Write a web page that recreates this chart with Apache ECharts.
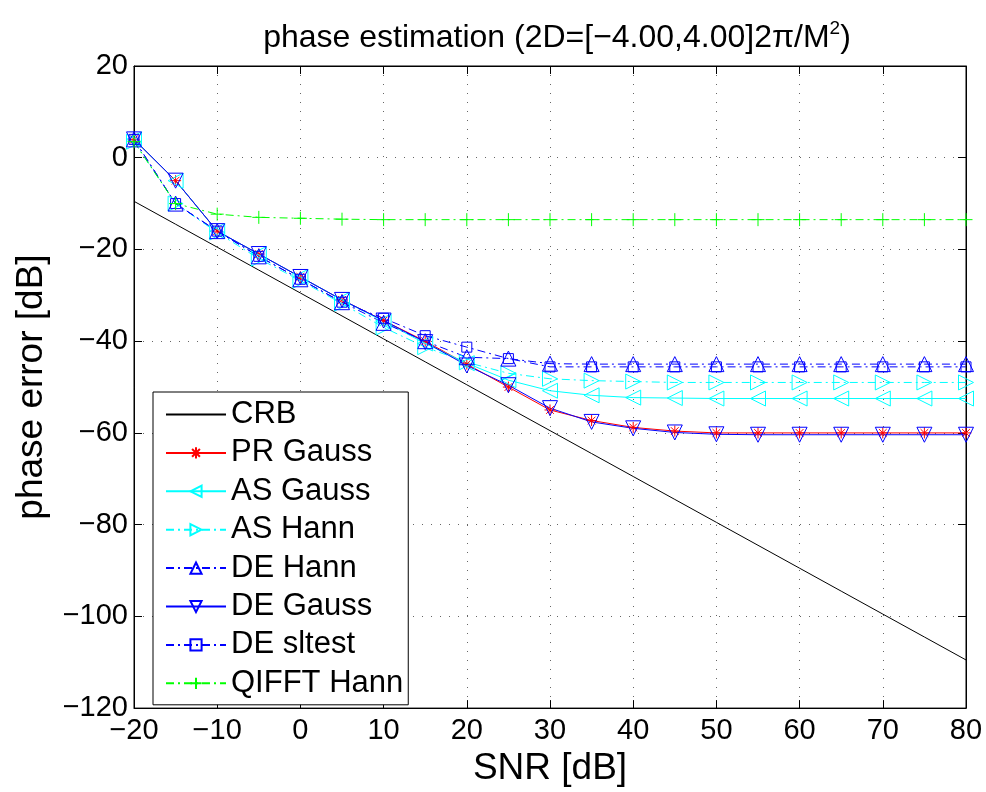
<!DOCTYPE html>
<html lang="en">
<head>
    <meta charset="UTF-8">
    <title>phase estimation</title>
    <script src="https://cdn.jsdelivr.net/npm/echarts@6/dist/echarts.min.js"></script>
    <style>
        body { margin: 0; background: #fff; }
        #chart { width: 986px; height: 792px; }
    </style>
</head>
<body>
    <div id="chart"></div>

    <script type="text/javascript">
        // SNR points [dB]
        var snr = [-20, -15, -10, -5, 0, 5, 10, 15, 20, 25, 30, 35, 40, 45, 50, 55, 60, 65, 70, 75, 80];

        // phase error [dB]
        var crb = [-9.5, -14.5, -19.5, -24.5, -29.5, -34.5, -39.5, -44.5, -49.5, -54.5, -59.5, -64.5, -69.5, -74.5, -79.5, -84.5, -89.5, -94.5, -99.5, -104.5, -109.5];
        var prGauss = [4, -5, -16, -21, -26, -31, -35.5, -40, -45, -50, -55, -57.3, -58.8, -59.6, -60, -60, -60, -60, -60, -60, -60];
        var asGauss = [4, -5, -16, -21, -26, -31, -35.7, -40.5, -44.8, -48.5, -50.8, -51.8, -52.3, -52.4, -52.5, -52.5, -52.5, -52.5, -52.5, -52.5, -52.5];
        var asHann = [3.5, -10, -16.3, -22, -26.8, -31.8, -37, -41.3, -44.6, -47, -48.2, -48.6, -48.8, -49, -49, -49, -49, -49, -49, -49, -49];
        var deHann = [4, -10, -16, -21.5, -26.5, -31.5, -36, -40, -43.5, -43.8, -44.9, -45, -45, -45, -45, -45, -45, -45, -45, -45, -45];
        var deGauss = [4, -5, -16, -21, -26, -31, -35.5, -40.2, -45.3, -49.6, -54.6, -57.6, -59, -59.9, -60.3, -60.4, -60.4, -60.4, -60.4, -60.4, -60.4];
        var deSltest = [4, -10, -16, -21.5, -26.5, -31.5, -35, -38.8, -41.3, -43.8, -45.6, -45.6, -45.6, -45.6, -45.6, -45.6, -45.6, -45.6, -45.6, -45.6, -45.6];
        var qifftHann = [3.5, -10, -12.3, -13, -13.2, -13.4, -13.5, -13.5, -13.5, -13.5, -13.5, -13.5, -13.5, -13.5, -13.5, -13.5, -13.5, -13.5, -13.5, -13.5, -13.5];

        var FONT = '"Liberation Sans", Arial, sans-serif';
        var dashDot = [8, 4, 2, 4];
        var plusPath = 'path://M5,0L5,10M0,5L10,5';
        var starPath = 'path://M5,0L5,10M0,5L10,5M1.5,1.5L8.5,8.5M1.5,8.5L8.5,1.5';

        function pairs(ys) {
            var out = [];
            for (var i = 0; i < snr.length; i++) out.push([snr[i], ys[i]]);
            return out;
        }

        function mk(name, ys, color, dash, symbol, size, rotate) {
            return {
                name: name,
                type: 'line',
                data: pairs(ys),
                symbol: symbol,
                symbolSize: size,
                symbolRotate: rotate || 0,
                showSymbol: symbol !== 'none',
                animation: false,
                lineStyle: { color: color, width: 1, type: dash },
                itemStyle: { color: 'none', borderColor: color, borderWidth: 1 }
            };
        }

        var series = [
            mk('CRB', crb, '#000000', 'solid', 'none', 0),
            mk('PR Gauss', prGauss, '#ff0000', 'solid', starPath, 11),
            mk('AS Gauss', asGauss, '#00ffff', 'solid', 'triangle', 15, 90),
            mk('AS Hann', asHann, '#00ffff', dashDot, 'triangle', 15, -90),
            mk('DE Hann', deHann, '#0000ff', dashDot, 'triangle', 15),
            mk('DE Gauss', deGauss, '#0000ff', 'solid', 'triangle', 15, 180),
            mk('DE sltest', deSltest, '#0000ff', dashDot, 'rect', 10),
            mk('QIFFT Hann', qifftHann, '#00ff00', dashDot, plusPath, 13)
        ];

        var legendData = series.map(function (s) {
            if (s.name === 'CRB') return { name: s.name, itemStyle: { opacity: 0 } };
            return { name: s.name };
        });

        var tickLabel = { fontFamily: FONT, fontSize: 29, color: '#000' };
        var minus = function (v) { return String(v).replace('-', '\u2212'); };

        var option = {
            backgroundColor: '#fff',
            animation: false,
            title: {
                text: '{a|phase estimation (2D=[\u22124.00,4.00]2\u03c0/M}{s|2}{a|)}',
                left: 552,
                top: 14,
                textAlign: 'center',
                textStyle: {
                    rich: {
                        a: { fontFamily: FONT, fontSize: 32, fontWeight: 'normal', color: '#000', lineHeight: 38 },
                        s: { fontFamily: FONT, fontSize: 19, fontWeight: 'normal', color: '#000', lineHeight: 38, verticalAlign: 'top' }
                    }
                }
            },
            grid: {
                left: 134, right: 20, top: 66, bottom: 77,
                show: true, borderColor: '#000', borderWidth: 1, backgroundColor: '#fff'
            },
            legend: {
                orient: 'vertical',
                left: 153,
                top: 392,
                padding: [7, 5, 6, 12],
                itemWidth: 60,
                itemHeight: 14,
                itemGap: 7.4,
                backgroundColor: '#fff',
                borderColor: '#000',
                borderWidth: 1,
                borderRadius: 0,
                textStyle: { fontFamily: FONT, fontSize: 31, color: '#000', lineHeight: 31 },
                data: legendData
            },
            xAxis: [{
                type: 'value',
                min: -20, max: 80, interval: 10,
                name: 'SNR [dB]',
                nameLocation: 'middle',
                nameGap: 40,
                nameTextStyle: { fontFamily: FONT, fontSize: 37, color: '#000' },
                axisLine: { onZero: false, lineStyle: { color: '#000', width: 1 } },
                axisTick: { inside: true, length: 8, lineStyle: { color: '#000' } },
                axisLabel: Object.assign({ margin: 8, formatter: minus }, tickLabel),
                splitLine: { show: true, lineStyle: { color: '#666', width: 1, type: [1, 8] } }
            }, {
                type: 'value',
                position: 'top',
                min: -20, max: 80, interval: 10,
                axisLine: { onZero: false, lineStyle: { color: '#000', width: 1 } },
                axisTick: { inside: true, length: 8, lineStyle: { color: '#000' } },
                axisLabel: { show: false },
                splitLine: { show: false }
            }],
            yAxis: [{
                type: 'value',
                min: -120, max: 20, interval: 20,
                name: 'phase error [dB]',
                nameLocation: 'middle',
                nameGap: 84,
                nameTextStyle: { fontFamily: FONT, fontSize: 37, color: '#000' },
                axisLine: { onZero: false, lineStyle: { color: '#000', width: 1 } },
                axisTick: { inside: true, length: 8, lineStyle: { color: '#000' } },
                axisLabel: Object.assign({ margin: 6, formatter: minus }, tickLabel),
                splitLine: { show: true, lineStyle: { color: '#666', width: 1, type: [1, 8] } }
            }, {
                type: 'value',
                position: 'right',
                min: -120, max: 20, interval: 20,
                axisLine: { onZero: false, lineStyle: { color: '#000', width: 1 } },
                axisTick: { inside: true, length: 8, lineStyle: { color: '#000' } },
                axisLabel: { show: false },
                splitLine: { show: false }
            }],
            series: series
        };

        echarts.init(document.getElementById('chart'), null, { renderer: 'canvas' }).setOption(option);
    </script>
</body>
</html>
